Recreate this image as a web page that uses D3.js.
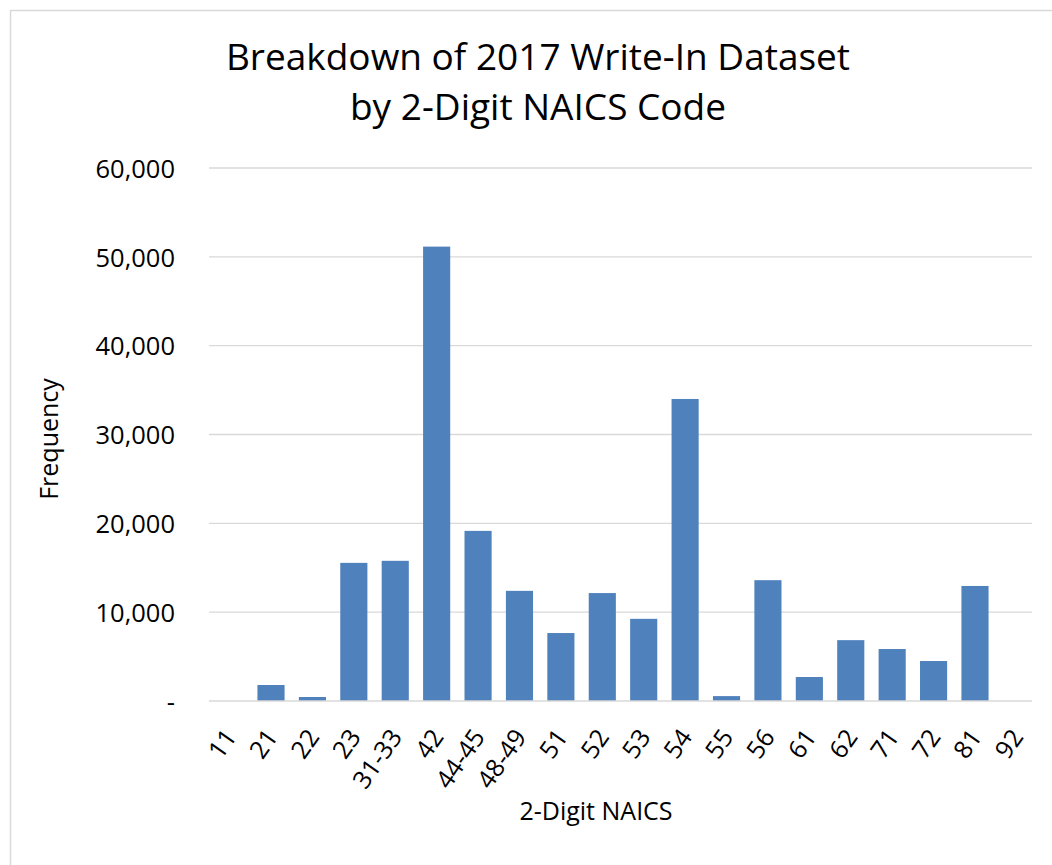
<!DOCTYPE html>
<html>
<head>
<meta charset="utf-8">
<script src="https://cdn.jsdelivr.net/npm/d3@7"></script>
<style>
  html, body { margin: 0; padding: 0; background: #fff; }
  svg { display: block; }
  text { font-family: "Open Sans", sans-serif; fill: #000; }
</style>
</head>
<body>
<svg id="chart" width="1052" height="865"></svg>
<script>
const categories = ["11","21","22","23","31-33","42","44-45","48-49","51","52","53","54","55","56","61","62","71","72","81","92"];
const frequency = [0,1800,450,15550,15780,51150,19150,12400,7650,12150,9250,34000,550,13600,2700,6850,5850,4500,12950,0];
const yTicks = [0,10000,20000,30000,40000,50000,60000];
const titleLines = ["Breakdown of 2017 Write-In Dataset","by 2-Digit NAICS Code"];
const xTitle = "2-Digit NAICS";
const yTitle = "Frequency";

const FONT = "'Open Sans', sans-serif";
const data = categories.map((c,i) => ({cat:c, val:frequency[i]}));
const svg = d3.select("#chart");

// chart border
svg.append("rect").attr("x",10.5).attr("y",10.5).attr("width",1100).attr("height",1000)
  .attr("fill","none").attr("stroke","#d9d9d9").attr("stroke-width",1.5);

const mLeft = 209, mRight = 1037, mTop = 168, mBottom = 701;
const x = d3.scaleBand().domain(categories).range([mLeft,mRight]).paddingInner(0.345).paddingOuter(0.17);
const y = d3.scaleLinear().domain([0,60000]).range([mBottom,mTop]);

// gridlines
svg.append("g").selectAll("line").data(yTicks.filter(t=>t>0)).join("line")
  .attr("x1",mLeft).attr("x2",1032).attr("y1",d=>y(d)).attr("y2",d=>y(d))
  .attr("stroke","#d9d9d9").attr("stroke-width",1.3);

// bars
svg.append("g").selectAll("rect").data(data).join("rect")
  .attr("x",d=>x(d.cat)).attr("width",x.bandwidth())
  .attr("y",d=>y(d.val)).attr("height",d=>y(0)-y(d.val))
  .attr("fill","#4f81bd");

// baseline axis
svg.append("line").attr("x1",mLeft).attr("x2",1032).attr("y1",y(0)).attr("y2",y(0))
  .attr("stroke","#d9d9d9").attr("stroke-width",1.5);

// y axis labels
const yAxis = d3.axisLeft(y).tickValues(yTicks).tickSize(0).tickPadding(0)
  .tickFormat(d => d === 0 ? "-" : d3.format(",")(d));
const gy = svg.append("g").attr("transform",`translate(175,0)`).call(yAxis);
gy.select(".domain").remove();
gy.selectAll("text").attr("font-size",25.5).attr("fill","#000").attr("dy","0.36em")
  .style("font-family",FONT);

// x axis labels
const xAxis = d3.axisBottom(x).tickSize(0).tickPadding(0);
const gx = svg.append("g").attr("transform",`translate(0,${y(0)})`).call(xAxis);
gx.select(".domain").remove();
gx.selectAll("text")
  .attr("font-size",25).attr("fill","#000")
  .style("font-family",FONT)
  .attr("text-anchor","end")
  .attr("dy",null).attr("y",0)
  .attr("transform","translate(8,36) rotate(-55)");

// titles
svg.append("text").attr("x",538).attr("text-anchor","middle").attr("font-size",37)
  .selectAll("tspan").data(titleLines).join("tspan")
  .attr("x",538).attr("y",(d,i)=>70+i*50).text(d=>d);

svg.append("text").attr("x",596).attr("y",820).attr("text-anchor","middle")
  .attr("font-size",25).text(xTitle);

svg.append("text").attr("transform","translate(58,439) rotate(-90)")
  .attr("text-anchor","middle").attr("font-size",25).text(yTitle);
</script>
</body>
</html>
